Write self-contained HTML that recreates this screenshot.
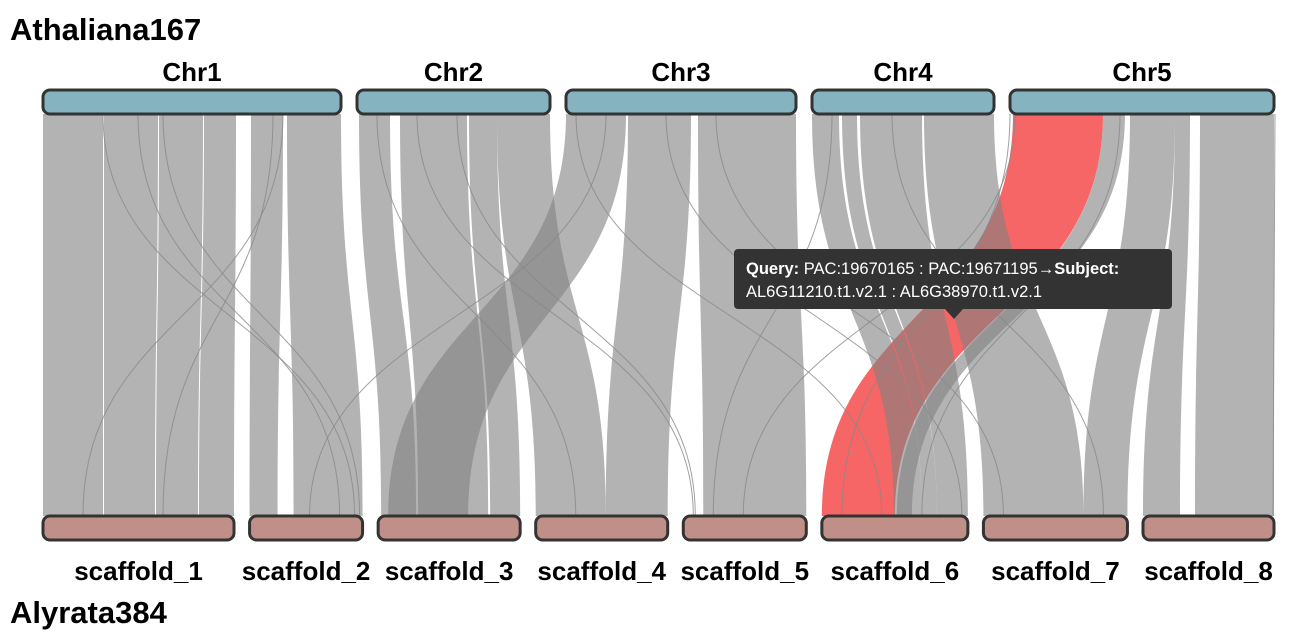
<!DOCTYPE html>
<html><head><meta charset="utf-8">
<style>
html,body{margin:0;padding:0;background:#fff;}
svg{display:block;font-family:"Liberation Sans",Arial,sans-serif;}
</style></head>
<body>
<svg id="chart" width="1290" height="636" viewBox="0 0 1290 636">
  <text x="10" y="40" font-size="31" font-weight="bold" fill="#000">Athaliana167</text>
  <text x="10" y="623" font-size="31" font-weight="bold" fill="#000">Alyrata384</text>
  <g id="ribbons"></g>
  <g id="chroms"></g>
  <g>
    <rect x="734" y="249" width="438" height="60" rx="4" fill="#333"/>
    <polygon points="945,309 963,309 954,319" fill="#333"/>
    <text x="746" y="274" font-size="16.5" fill="#fff"><tspan font-weight="bold">Query:</tspan> PAC:19670165 : PAC:19671195→<tspan font-weight="bold">Subject:</tspan></text>
    <text x="746" y="297" font-size="16.5" fill="#fff">AL6G11210.t1.v2.1 : AL6G38970.t1.v2.1</text>
  </g>
</svg>
<script>
const queryNames = ["Chr1","Chr2","Chr3","Chr4","Chr5"];
const queryLengths = [298,193,230,182,264];
const subjectNames = ["scaffold_1","scaffold_2","scaffold_3","scaffold_4","scaffold_5","scaffold_6","scaffold_7","scaffold_8"];
const subjectLengths = [191,113,142,132,123,146,144,131];
// [queryChr, qStart, qEnd, subjectChr, sStart, sEnd]
const blocks = [
  [0,0,60,0,0,60],[0,61,115,0,61,112],[0,116,160,0,113,155],[0,161,193,0,156,191],
  [0,208,240,1,0,28],[0,244,298,1,44,113],
  [1,2,33,2,3,38],[1,43,110,2,40,110],[1,112,140,2,112,142],[1,140,193,3,0,70],
  [2,0,60,2,10,90],[2,62,125,3,70,132],[2,132,230,4,20,123],
  [3,0,27,5,72,100],[3,30,45,5,100,115],[3,48,110,5,115,146],[3,112,182,6,0,100],
  [4,93,115,5,75,90],[4,120,165,6,100,144],[4,165,180,7,0,37],[4,190,264,7,52,131]
];
const highlight = [4,3,93,5,0,73];
// thin links [queryChr, qPos, subjectChr, sPos]
const links = [
  [0,95,1,90],[0,60,1,105],[0,240,0,40],[0,120,1,110],[0,230,0,120],
  [1,20,3,40],[1,60,4,10],[1,100,4,12],[2,40,1,60],[2,10,5,60],[2,100,5,140],
  [3,20,4,30],[3,80,6,120],[4,0,5,20],[4,5,4,60],[4,110,5,100],[4,265,7,130],[2,150,6,20]
];
const NS="http://www.w3.org/2000/svg";
const TOPY=114, BOTY=516, GAPQ=16, GAPS=(1231-subjectLengths.reduce((a,b)=>a+b,0))/7;
const qStart=[], sStart=[];
let acc=43; queryLengths.forEach((l,i)=>{qStart.push(acc);acc+=l+GAPQ;});
acc=43; subjectLengths.forEach((l,i)=>{sStart.push(acc);acc+=l+GAPS;});
const qx=(c,p)=>qStart[c]+p, sx=(c,p)=>sStart[c]+p;
const my=(TOPY+BOTY)/2;
const rib=document.getElementById('ribbons');
function ribbon(b,fill,op,name){
  const a1=qx(b[0],b[1]),a2=qx(b[0],b[2]),c1=sx(b[3],b[4]),c2=sx(b[3],b[5]);
  const d=`M${a1},${TOPY} L${a2},${TOPY} C${a2},${my} ${c2},${my} ${c2},${BOTY} L${c1},${BOTY} C${c1},${my} ${a1},${my} ${a1},${TOPY}Z`;
  const p=document.createElementNS(NS,'path');
  p.setAttribute('d',d);p.setAttribute('fill',fill);p.setAttribute('fill-opacity',op);
  
  
  rib.appendChild(p);
}
ribbon(highlight,'#f55a5a',0.93,'highlighted-synteny-block');
blocks.forEach((b,i)=>ribbon(b,'#808080',0.6,'synteny-block'));
links.forEach(l=>{
  const a=qx(l[0],l[1]),c=sx(l[2],l[3]);
  const p=document.createElementNS(NS,'path');
  p.setAttribute('d',`M${a},${TOPY} C${a},${my} ${c},${my} ${c},${BOTY}`);
  p.setAttribute('fill','none');p.setAttribute('stroke','#888');p.setAttribute('stroke-width','1');p.setAttribute('stroke-opacity','0.8');
  
  
  rib.appendChild(p);
});
const ch=document.getElementById('chroms');
function bar(x,w,y,fill,name,label,ly,fs){
  const r=document.createElementNS(NS,'rect');
  r.setAttribute('x',x);r.setAttribute('y',y);r.setAttribute('width',w);r.setAttribute('height',24);
  r.setAttribute('rx',7);r.setAttribute('fill',fill);r.setAttribute('stroke','#333');r.setAttribute('stroke-width','3');
  
  
  ch.appendChild(r);
  const t=document.createElementNS(NS,'text');
  t.setAttribute('x',x+w/2);t.setAttribute('y',ly);t.setAttribute('text-anchor','middle');
  t.setAttribute('font-size',fs);t.setAttribute('font-weight','bold');t.textContent=label;
  
  
  ch.appendChild(t);
}
queryNames.forEach((n,i)=>bar(qStart[i],queryLengths[i],90,'#86b3c0',n.toLowerCase(),n,81,26));
subjectNames.forEach((n,i)=>bar(sStart[i],subjectLengths[i],516,'#c09088',n.replace('_','-'),n,580,26));
</script>
</body></html>
